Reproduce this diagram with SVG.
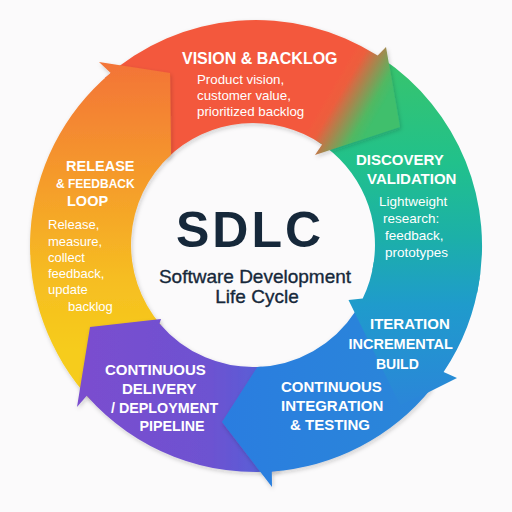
<svg xmlns="http://www.w3.org/2000/svg" width="512" height="512" viewBox="0 0 512 512">
<defs>
<linearGradient id="gGreen" gradientUnits="userSpaceOnUse" x1="0" y1="60" x2="0" y2="400">
<stop offset="0" stop-color="#38c46c"/><stop offset="0.3" stop-color="#21c18b"/><stop offset="0.52" stop-color="#1cb0a8"/><stop offset="0.72" stop-color="#1f9bcc"/><stop offset="1" stop-color="#2a87d8"/>
</linearGradient>
<linearGradient id="gRed" gradientUnits="userSpaceOnUse" x1="338" y1="77" x2="384" y2="104">
<stop offset="0" stop-color="#f3593c"/><stop offset="0.2" stop-color="#ec5e3e"/><stop offset="0.8" stop-color="#52b862"/><stop offset="1" stop-color="#3fbf6c"/>
</linearGradient>
<linearGradient id="gYellow" gradientUnits="userSpaceOnUse" x1="0" y1="60" x2="0" y2="350">
<stop offset="0" stop-color="#f37338"/><stop offset="0.4" stop-color="#f59a2b"/><stop offset="0.75" stop-color="#f6bd22"/><stop offset="1" stop-color="#f6cc1b"/>
</linearGradient>
<linearGradient id="gPurple" gradientUnits="userSpaceOnUse" x1="90" y1="0" x2="290" y2="0">
<stop offset="0" stop-color="#7a4ecf"/><stop offset="0.6" stop-color="#6d52d1"/><stop offset="1" stop-color="#4c66da"/>
</linearGradient>
<linearGradient id="gBlue" gradientUnits="userSpaceOnUse" x1="220" y1="0" x2="440" y2="0">
<stop offset="0" stop-color="#2a7de0"/><stop offset="1" stop-color="#2a87d8"/>
</linearGradient>
<filter id="sh" x="-20%" y="-20%" width="140%" height="140%">
<feDropShadow dx="1" dy="2" stdDeviation="2.2" flood-color="#1a1a2a" flood-opacity="0.2"/>
</filter>
</defs>
<style>
.h{font-family:'Liberation Sans',Arial,sans-serif;font-weight:bold;fill:#ffffff;font-size:15px}
.b{font-family:'Liberation Sans',Arial,sans-serif;fill:#ffffff;font-size:13px}
.c{font-family:'Liberation Sans',Arial,sans-serif;fill:#16283a}
</style>
<rect width="512" height="512" fill="#fbfafb"/>

<g id="discovery">
<path d="M 382.4 58.6 A 226 226 0 0 1 477.1 293.0 L 372.3 270.4 A 122 122 0 0 0 317.6 141.5 Z" fill="url(#gGreen)"/>
<text class="h" x="356" y="165">DISCOVERY</text>
<text class="h" x="367" y="184.3">VALIDATION</text>
<text class="b" style="font-size:13.5px" x="379" y="206">Lightweight</text>
<text class="b" style="font-size:13.5px" x="383" y="223">research:</text>
<text class="b" style="font-size:13.5px" x="385" y="240">feedback,</text>
<text class="b" style="font-size:13.5px" x="385" y="256.5">prototypes</text>
</g>

<g id="vision">
<path d="M 104.8 78.0 A 226 226 0 0 1 377.7 55.6 L 386 47 L 400 127 L 315 155 L 322.1 144.5 A 122 122 0 0 0 166.7 158.7 Z" fill="url(#gRed)" filter="url(#sh)"/>
<text class="h" style="font-size:16px" x="182" y="64">VISION &amp; BACKLOG</text>
<text class="b" style="font-size:13.3px" x="197" y="84">Product vision,</text>
<text class="b" style="font-size:13.3px" x="197" y="100">customer value,</text>
<text class="b" style="font-size:13.3px" x="197" y="116">prioritized backlog</text>
</g>

<g id="release">
<path d="M 90.7 400.1 A 226 226 0 0 1 110.7 72.9 L 99 62 L 170 73 L 171 154.7 A 122 122 0 0 0 160.9 325.0 Z" fill="url(#gYellow)" filter="url(#sh)"/>
<text class="h" style="font-size:14.5px" x="66" y="170.5">RELEASE</text>
<text class="h" style="font-size:12px" x="56" y="188.3">&amp; FEEDBACK</text>
<text class="h" style="font-size:14.5px" x="67" y="206">LOOP</text>
<text class="b" x="48" y="229">Release,</text>
<text class="b" x="48" y="246">measure,</text>
<text class="b" x="48" y="262">collect</text>
<text class="b" x="48" y="278">feedback,</text>
<text class="b" x="48" y="294">update</text>
<text class="b" x="68" y="310.5">backlog</text>
</g>

<g id="delivery">
<path d="M 279.6 470.8 A 226 226 0 0 1 86.7 395.7 L 77 407 L 90 327 L 161 319 L 159.5 323.4 A 122 122 0 0 0 261.5 366.7 Z" fill="url(#gPurple)" filter="url(#sh)"/>
<text class="h" x="105" y="375">CONTINUOUS</text>
<text class="h" x="122" y="394">DELIVERY</text>
<text class="h" style="font-size:14.3px" x="111" y="413">/ DEPLOYMENT</text>
<text class="h" style="font-size:14.3px" x="139.5" y="431">PIPELINE</text>
</g>

<g id="integration">
<path d="M 431.6 388.2 A 226 226 0 0 1 271.8 471.4 L 272 487 L 222 422 L 257.3 366.9 A 122 122 0 0 0 355.3 311.4 Z" fill="url(#gBlue)" filter="url(#sh)"/>
<text class="h" x="281" y="391.7">CONTINUOUS</text>
<text class="h" x="281" y="411">INTEGRATION</text>
<text class="h" x="290" y="430">&amp; TESTING</text>
</g>

<g id="iteration">
<path d="M 479.8 277.5 A 226 226 0 0 1 443.6 372.0 L 457 378 L 427 393 L 400 405 L 348.5 300 L 362.7 298.5 A 122 122 0 0 0 373.8 262.0 Z" fill="url(#gGreen)"/>
<text class="h" x="370" y="329.3">ITERATION</text>
<text class="h" style="font-size:14.5px" x="348.5" y="349">INCREMENTAL</text>
<text class="h" style="font-size:14px" x="376" y="369">BUILD</text>
</g>

<g id="center">
<text class="c" style="font-size:50px;font-weight:bold;letter-spacing:3px" x="176" y="246.7">SDLC</text>
<text class="c" style="font-size:19px;stroke:#16283a;stroke-width:0.35" x="255" y="282.7" text-anchor="middle">Software Development</text>
<text class="c" style="font-size:19px;stroke:#16283a;stroke-width:0.35" x="257" y="303.3" text-anchor="middle">Life Cycle</text>
</g>
</svg>
